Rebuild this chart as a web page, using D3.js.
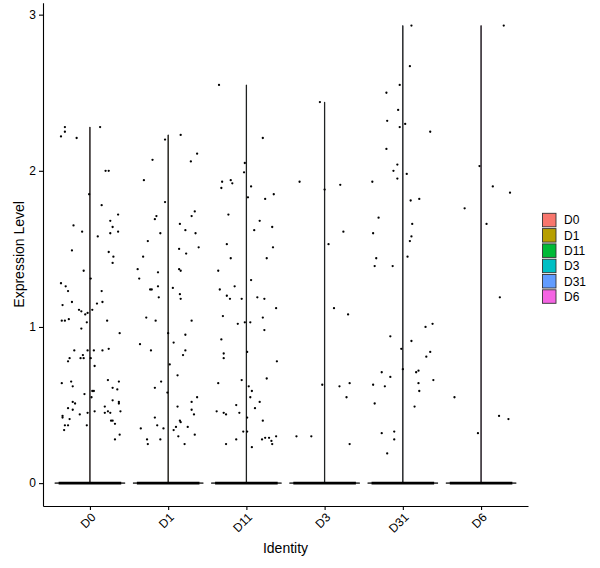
<!DOCTYPE html>
<html>
<head>
<meta charset="utf-8">
<script src="https://cdn.jsdelivr.net/npm/d3@7"></script>
<style>
  body { margin: 0; background: #fff; }
  svg text { font-family: "Liberation Sans", Arial, sans-serif; fill: #000; }
</style>
</head>
<body>
<div id="chart"></div>
<script>
// identities (x categories) and their ggplot hue colours
var identities = ["D0", "D1", "D11", "D3", "D31", "D6"];
var groupColors = ["#F8766D", "#B79F00", "#00BA38", "#00BFC4", "#619CFF", "#F564E3"];
var yTicks = [0, 1, 2, 3];

// non-zero cells per identity: [expression, jitter offset in band steps]
var exprD0 = [
  [2.28,-0.32],[2.25,-0.32],[2.22,-0.37],[2.21,-0.17],[2.28,0.13],
  [2.00,0.20],[2.00,0.24],[1.85,-0.01],[1.78,0.15],[1.72,0.36],[1.68,0.26],
  [1.65,-0.21],[1.64,0.29],[1.61,-0.10],[1.60,0.26],[1.61,0.36],[1.58,0.10],
  [1.49,-0.23],[1.48,0.24],[1.45,0.30],[1.41,0.29],[1.36,-0.08],[1.31,0.01],
  [1.28,-0.37],[1.26,-0.31],[1.23,-0.28],[1.23,0.15],
  [1.14,-0.35],[1.16,-0.23],[1.15,0.09],[1.16,0.16],
  [1.11,-0.14],[1.10,-0.11],[1.08,-0.06],[1.09,-0.03],[1.11,0.03],
  [1.04,-0.36],[1.04,-0.32],[1.05,-0.27],[1.03,-0.04],[1.04,0.22],
  [0.99,-0.11],[0.96,0.38],
  [0.85,-0.20],[0.85,-0.03],[0.85,0.05],[0.85,0.16],[0.86,0.24],
  [0.82,-0.09],[0.80,-0.26],[0.78,-0.28],[0.80,-0.12],[0.80,-0.08],[0.80,0.01],
  [0.75,0.06],
  [0.64,-0.36],[0.65,-0.24],[0.62,-0.22],[0.66,0.23],[0.65,0.37],[0.61,0.29],[0.60,0.35],
  [0.57,-0.07],[0.59,0.03],[0.59,0.05],[0.55,0.02],
  [0.52,-0.22],[0.51,-0.19],[0.48,-0.28],[0.47,-0.22],[0.53,0.29],[0.52,0.37],[0.51,0.37],[0.49,0.19],
  [0.44,-0.13],[0.45,-0.03],[0.46,0.06],[0.45,0.19],[0.46,0.23],[0.45,0.26],[0.46,0.39],
  [0.43,-0.35],[0.42,-0.35],[0.41,-0.26],[0.40,0.27],[0.40,0.29],[0.38,0.32],
  [0.37,-0.32],[0.37,-0.28],[0.37,-0.04],[0.34,-0.33],[0.31,0.38],[0.28,0.32]
];
var exprD1 = [
  [2.23,0.16],[2.20,-0.04],[2.11,0.37],[2.07,-0.20],[2.06,0.29],[1.94,-0.31],
  [1.80,-0.04],[1.74,0.34],[1.71,0.30],[1.71,-0.15],[1.69,-0.17],[1.66,0.15],
  [1.62,0.22],[1.60,0.35],[1.60,-0.10],[1.55,-0.26],[1.50,0.14],[1.51,0.39],
  [1.47,0.23],[1.45,-0.32],[1.37,-0.39],[1.35,-0.13],[1.37,0.14],[1.36,0.16],
  [1.31,-0.37],[1.26,-0.13],[1.25,0.06],[1.24,-0.23],[1.24,-0.21],[1.21,0.15],
  [1.19,-0.12],[1.18,0.16],[1.06,-0.28],[1.04,-0.16],[1.04,0.30],
  [0.96,0.00],[0.95,0.22],[0.90,0.07],[0.89,-0.36],[0.85,-0.22],[0.85,0.22],
  [0.82,0.19],[0.76,0.02],[0.69,0.12],[0.65,-0.09],[0.61,-0.17],[0.58,-0.01],
  [0.55,0.37],[0.52,0.30],[0.49,0.12],[0.47,0.30],[0.44,0.33],[0.42,-0.17],
  [0.40,0.15],[0.39,0.16],[0.37,-0.14],[0.35,-0.06],[0.35,-0.35],[0.36,0.10],
  [0.34,0.07],[0.36,0.25],[0.31,0.34],[0.28,-0.27],[0.28,-0.10],[0.30,0.13],
  [0.25,-0.26],[0.25,0.21]
];
var exprD11 = [
  [2.55,-0.35],[2.21,0.21],[2.05,-0.02],[1.99,-0.03],[1.93,-0.31],[1.94,-0.20],
  [1.92,-0.18],[1.89,-0.32],[1.90,0.06],[1.83,0.02],[1.85,0.35],[1.82,0.24],
  [1.72,-0.23],[1.68,0.17],[1.62,0.10],[1.64,0.33],[1.53,-0.25],[1.51,0.34],
  [1.44,-0.20],[1.44,0.26],[1.36,-0.36],[1.30,0.06],[1.26,-0.15],[1.24,-0.34],
  [1.20,-0.25],[1.18,-0.21],[1.18,-0.06],[1.19,0.14],[1.18,0.23],[1.12,0.38],
  [1.07,-0.30],[1.06,0.21],[1.02,-0.11],[1.03,-0.02],[1.03,0.05],[0.98,0.23],
  [0.92,-0.32],[0.83,-0.29],[0.80,-0.29],[0.84,0.01],[0.78,0.39],
  [0.64,-0.36],[0.66,-0.06],[0.67,0.26],[0.62,0.03],[0.59,0.07],[0.55,0.05],
  [0.52,0.17],[0.50,-0.13],[0.48,0.11],[0.46,-0.38],[0.45,-0.29],[0.44,-0.26],
  [0.45,-0.09],[0.42,0.01],[0.40,0.21],[0.33,-0.04],[0.33,0.01],[0.30,0.38],
  [0.28,0.20],[0.29,0.24],[0.29,0.29],[0.27,0.32],[0.25,0.33],[0.25,-0.26],
  [0.28,-0.13],[0.23,0.07]
];
var exprD3 = [
  [2.44,-0.06],[1.93,-0.32],[1.88,0.00],[1.91,0.20],[1.61,0.24],[1.53,0.05],
  [1.12,0.12],[1.08,0.30],[0.63,-0.03],[0.62,0.19],[0.64,0.32],[0.55,0.28],
  [0.30,-0.36],[0.30,-0.17],[0.25,0.32]
];
var exprD31 = [
  [2.93,0.11],[2.67,0.09],[2.55,-0.04],[2.50,-0.21],[2.39,-0.06],[2.32,-0.20],
  [2.28,-0.04],[2.30,0.03],[2.25,0.35],[2.14,-0.21],[2.04,-0.07],[2.00,-0.12],
  [1.98,0.05],[1.95,-0.07],[1.93,-0.39],[1.81,0.10],[1.82,0.21],[1.70,-0.31],
  [1.66,0.12],[1.60,-0.38],[1.58,0.11],[1.55,0.09],[1.44,-0.34],[1.45,0.06],
  [1.39,-0.36],[1.39,-0.13],[1.02,0.38],[1.00,0.29],[0.94,-0.16],[0.91,0.11],
  [0.86,-0.02],[0.84,0.35],[0.81,0.30],[0.71,-0.27],[0.73,0.00],[0.71,0.17],
  [0.72,0.20],[0.68,-0.16],[0.66,0.39],[0.63,-0.38],[0.62,-0.23],[0.64,0.20],
  [0.59,0.21],[0.51,-0.36],[0.49,0.15],[0.32,-0.27],[0.33,-0.11],[0.28,-0.11],
  [0.19,-0.20]
];
var exprD6 = [
  [2.93,0.29],[2.03,-0.02],[1.90,0.15],[1.86,0.37],[1.76,-0.21],[1.66,0.07],
  [1.19,0.24],[0.55,-0.34],[0.43,0.23],[0.41,0.35],[0.32,-0.04]
];
var exprByIdentity = [exprD0, exprD1, exprD11, exprD3, exprD31, exprD6];

var width = 600, height = 568;
var panel = { left: 43, right: 528, top: 2.7, bottom: 506 };

var svg = d3.select("#chart").append("svg")
    .attr("width", width)
    .attr("height", height);

var x = d3.scalePoint()
    .domain(identities)
    .range([panel.left, panel.right])
    .padding(0.6);
var step = x.step();

var yMax = d3.max(exprByIdentity, function (g) { return d3.max(g, function (d) { return d[0]; }); });
var pad = yMax * 0.05;
var y = d3.scaleLinear()
    .domain([-pad, yMax + pad])
    .range([panel.bottom, panel.top]);

var color = d3.scaleOrdinal().domain(identities).range(groupColors);

// violins: almost all mass at zero -> flat base plus a hair-thin stalk up to the max
var violin = d3.area()
    .y(function (d) { return y(d.v); })
    .x0(function (d) { return -d.w * step; })
    .x1(function (d) { return d.w * step; });

var groups = svg.append("g").selectAll("g")
    .data(identities)
    .enter().append("g")
    .attr("transform", function (d) { return "translate(" + x(d) + ",0)"; });

groups.append("path")
    .attr("d", function (d, i) {
        var m = d3.max(exprByIdentity[i], function (p) { return p[0]; });
        return violin([{ v: 0, w: 0.45 }, { v: 0.004, w: 0.002 }, { v: m, w: 0.002 }]);
    })
    .style("fill", function (d) { return color(d); })
    .style("stroke", "#1a1a1a")
    .style("stroke-width", 0.9);

// cells with zero expression pile up on the baseline
groups.append("line")
    .attr("x1", -0.4 * step)
    .attr("x2", 0.4 * step)
    .attr("y1", y(0))
    .attr("y2", y(0))
    .style("stroke", "#000")
    .style("stroke-width", 2.6);

groups.selectAll("circle")
    .data(function (d, i) { return exprByIdentity[i]; })
    .enter().append("circle")
    .attr("cx", function (d) { return d[1] * step; })
    .attr("cy", function (d) { return y(d[0]); })
    .attr("r", 1.15)
    .style("fill", "#000");

// axes
var yAxis = svg.append("g")
    .attr("transform", "translate(" + panel.left + ",0)")
    .call(d3.axisLeft(y).tickValues(yTicks).tickFormat(d3.format("d"))
        .tickSize(4).tickSizeOuter(0).tickPadding(3));
var xAxis = svg.append("g")
    .attr("transform", "translate(0," + panel.bottom + ")")
    .call(d3.axisBottom(x).tickSize(4).tickSizeOuter(0));

[yAxis, xAxis].forEach(function (a) {
    a.select(".domain").style("stroke", "#000").style("stroke-width", 1.1);
    a.selectAll(".tick line").style("stroke", "#000").style("stroke-width", 1.1);
    a.selectAll("text").style("font-size", "12px").style("font-family", "Liberation Sans, Arial, sans-serif");
});

xAxis.selectAll(".tick text")
    .attr("x", 0)
    .attr("y", 0)
    .attr("dy", "0.71em")
    .attr("text-anchor", "end")
    .attr("transform", "translate(0,6) rotate(-45)");

svg.append("text")
    .attr("transform", "translate(24," + ((panel.top + panel.bottom) / 2) + ") rotate(-90)")
    .attr("text-anchor", "middle")
    .style("font-size", "14px")
    .text("Expression Level");

svg.append("text")
    .attr("x", (panel.left + panel.right) / 2)
    .attr("y", 553)
    .attr("text-anchor", "middle")
    .style("font-size", "14px")
    .text("Identity");

// legend
var legend = svg.append("g").attr("transform", "translate(542.5,213.3)");
var key = legend.selectAll("g")
    .data(identities)
    .enter().append("g")
    .attr("transform", function (d, i) { return "translate(0," + (i * 15.3) + ")"; });
key.append("rect")
    .attr("width", 13.5)
    .attr("height", 13.5)
    .style("fill", function (d) { return color(d); })
    .style("stroke", "#333")
    .style("stroke-width", 0.9);
key.append("text")
    .attr("x", 21.5)
    .attr("y", 11.2)
    .style("font-size", "12px")
    .text(function (d) { return d; });
</script>
</body>
</html>
